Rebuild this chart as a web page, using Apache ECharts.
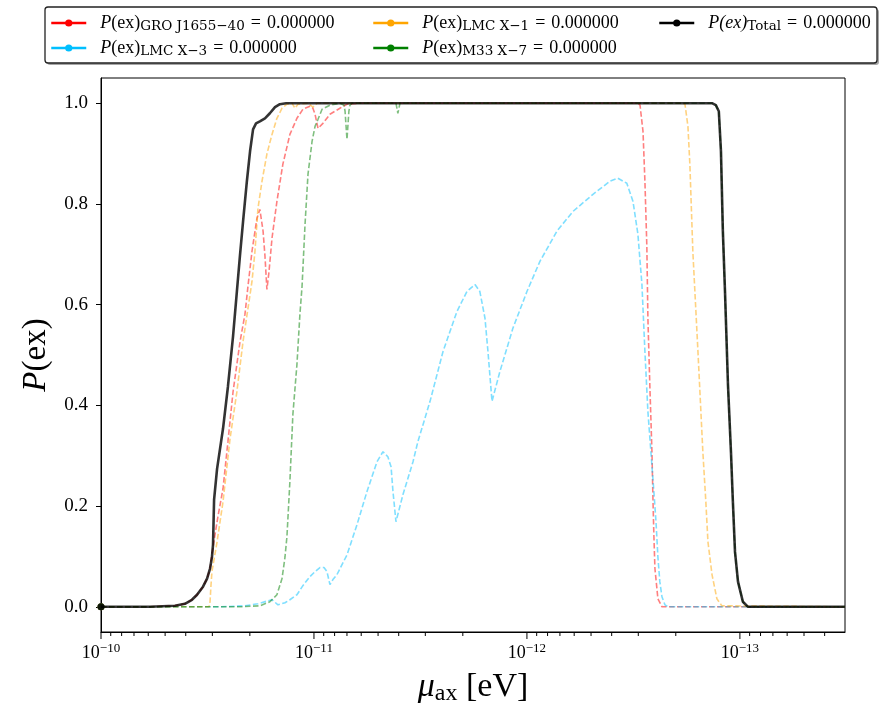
<!DOCTYPE html>
<html>
<head>
<meta charset="utf-8">
<script src="https://cdn.jsdelivr.net/npm/echarts@6/dist/echarts.min.js"></script>
<style>
  html, body { margin: 0; padding: 0; background: #fff; }
  #chart { width: 881px; height: 706px; }
</style>
</head>
<body>
<div id="chart"></div>
<script>
// Excitation probability P(ex) versus axion mass, per source.
// Masses are stored as log10(mu / eV).

const groLogMu = [-10, -10.23, -10.347, -10.394, -10.427, -10.451, -10.479, -10.498, -10.512, -10.526, -10.549, -10.573, -10.596, -10.62, -10.653, -10.676, -10.69, -10.709, -10.732, -10.746, -10.761, -10.77, -10.779, -10.789, -10.803, -10.826, -10.854, -10.887, -10.92, -10.948, -10.981, -10.995, -11.005, -11.019, -11.042, -11.075, -11.122, -11.155, -11.216, -12.521, -12.531, -12.545, -12.554, -12.563, -12.568, -12.577, -12.587, -12.592, -12.596, -12.601, -12.615, -12.634, -13.493];
const groP = [0, 0, 0.002, 0.006, 0.014, 0.024, 0.040, 0.056, 0.076, 0.119, 0.179, 0.235, 0.328, 0.427, 0.527, 0.581, 0.636, 0.706, 0.771, 0.789, 0.746, 0.696, 0.630, 0.666, 0.732, 0.805, 0.879, 0.938, 0.970, 0.988, 0.994, 0.990, 0.978, 0.950, 0.960, 0.978, 0.990, 0.998, 1.0, 1.0, 0.996, 0.944, 0.845, 0.716, 0.573, 0.441, 0.308, 0.209, 0.143, 0.076, 0.016, 0, 0];

const lmcX3LogMu = [-10, -10.559, -10.676, -10.737, -10.784, -10.803, -10.831, -10.864, -10.887, -10.92, -10.948, -10.981, -11.005, -11.028, -11.047, -11.061, -11.075, -11.089, -11.108, -11.155, -11.202, -11.249, -11.296, -11.324, -11.347, -11.362, -11.371, -11.385, -11.418, -11.465, -11.488, -11.545, -11.606, -11.671, -11.718, -11.756, -11.779, -11.803, -11.817, -11.836, -11.873, -11.934, -12.0, -12.061, -12.141, -12.216, -12.31, -12.39, -12.427, -12.469, -12.498, -12.521, -12.54, -12.554, -12.568, -12.582, -12.596, -12.606, -12.615, -12.624, -12.634, -12.648, -12.662, -13.493];
const lmcX3P = [0, 0, 0.002, 0.006, 0.012, 0.014, 0.004, 0.008, 0.014, 0.024, 0.042, 0.060, 0.070, 0.078, 0.078, 0.070, 0.044, 0.054, 0.064, 0.103, 0.163, 0.229, 0.288, 0.308, 0.298, 0.278, 0.229, 0.169, 0.223, 0.288, 0.328, 0.408, 0.507, 0.586, 0.626, 0.640, 0.626, 0.573, 0.507, 0.408, 0.467, 0.553, 0.626, 0.686, 0.746, 0.785, 0.819, 0.845, 0.851, 0.841, 0.805, 0.740, 0.640, 0.507, 0.388, 0.308, 0.229, 0.169, 0.099, 0.050, 0.020, 0.004, 0, 0];

const lmcX1LogMu = [-10, -10.507, -10.512, -10.516, -10.521, -10.545, -10.573, -10.606, -10.638, -10.667, -10.709, -10.723, -10.737, -10.756, -10.779, -10.803, -10.826, -10.85, -10.873, -10.897, -10.911, -10.925, -10.972, -10.995, -11.014, -12.732, -12.742, -12.756, -12.765, -12.779, -12.803, -12.826, -12.84, -12.85, -12.869, -12.892, -12.915, -13.493];
const lmcX1P = [0, 0, 0.010, 0.040, 0.070, 0.129, 0.209, 0.334, 0.427, 0.527, 0.646, 0.706, 0.791, 0.845, 0.899, 0.938, 0.970, 0.990, 0.998, 1.0, 0.990, 0.998, 1.0, 0.992, 1.0, 1.0, 0.998, 0.954, 0.879, 0.706, 0.507, 0.308, 0.209, 0.129, 0.064, 0.016, 0.002, 0];

const m33X7LogMu = [-10, -10.653, -10.746, -10.793, -10.826, -10.85, -10.864, -10.873, -10.887, -10.901, -10.92, -10.934, -10.944, -10.958, -10.972, -10.991, -11.005, -11.019, -11.038, -11.075, -11.122, -11.141, -11.146, -11.155, -11.164, -11.169, -11.178, -11.385, -11.394, -11.404, -12.869, -12.887, -12.901, -12.911, -12.92, -12.93, -12.944, -12.958, -12.967, -12.977, -12.991, -13.014, -13.038, -13.493];
const m33X7P = [0, 0, 0.002, 0.010, 0.024, 0.056, 0.099, 0.139, 0.249, 0.382, 0.481, 0.581, 0.636, 0.759, 0.859, 0.924, 0.954, 0.968, 0.988, 0.996, 1.0, 0.996, 0.984, 0.928, 0.984, 0.996, 1.0, 1.0, 0.980, 1.0, 1.0, 0.996, 0.984, 0.905, 0.746, 0.626, 0.441, 0.308, 0.209, 0.109, 0.05, 0.01, 0, 0];

const totalLogMu = [-10, -10.23, -10.347, -10.394, -10.427, -10.451, -10.479, -10.498, -10.512, -10.521, -10.526, -10.531, -10.545, -10.573, -10.596, -10.62, -10.638, -10.653, -10.667, -10.685, -10.7, -10.714, -10.728, -10.746, -10.77, -10.793, -10.817, -10.84, -10.869, -12.869, -12.887, -12.901, -12.911, -12.92, -12.93, -12.944, -12.958, -12.967, -12.977, -12.991, -13.014, -13.038, -13.493];
const totalP = [0, 0, 0.002, 0.006, 0.014, 0.024, 0.040, 0.056, 0.076, 0.099, 0.123, 0.213, 0.274, 0.354, 0.437, 0.537, 0.626, 0.700, 0.765, 0.845, 0.905, 0.948, 0.960, 0.964, 0.970, 0.980, 0.992, 0.998, 1.0, 1.0, 0.996, 0.984, 0.905, 0.746, 0.626, 0.441, 0.308, 0.209, 0.109, 0.05, 0.01, 0, 0];

// Legend values shown after each label
const legendValues = ['0.000000', '0.000000', '0.000000', '0.000000', '0.000000'];

// Axis ranges and y tick values
const massRange = [3.21e-14, 1e-10];
const probRange = [-0.05, 1.05];
const yTickValues = [0, 0.2, 0.4, 0.6, 0.8, 1.0];

const FONT = 'Liberation Serif';
const SUB_FONT = 'DejaVu Serif';

function toPairs(logMu, p) {
  return logMu.map((e, i) => [Math.pow(10, e), p[i]]);
}

// Decade (major) and 2..9 (minor) tick positions on the log axis
const logTicks = [];
for (let d = -14; d <= -10; d++) {
  for (let m = 1; m <= 9; m++) {
    const v = m * Math.pow(10, d);
    if (v >= massRange[0] * 0.9999 && v <= massRange[1] * 1.0001) logTicks.push([v, m === 1 ? 1 : 0]);
  }
}

const sources = [
  { name: 'GRO J1655\u221240', color: '#ff0000', logMu: groLogMu, p: groP, value: legendValues[0] },
  { name: 'LMC X\u22123', color: '#00bfff', logMu: lmcX3LogMu, p: lmcX3P, value: legendValues[1] },
  { name: 'LMC X\u22121', color: '#ffa500', logMu: lmcX1LogMu, p: lmcX1P, value: legendValues[2] },
  { name: 'M33 X\u22127', color: '#008000', logMu: m33X7LogMu, p: m33X7P, value: legendValues[3] }
];

const firstPointOnly = (v, params) => (params.dataIndex === 0 ? 7 : 0);

const series = sources.map(s => ({
  name: s.name,
  type: 'line',
  data: toPairs(s.logMu, s.p),
  color: s.color,
  symbol: 'circle',
  symbolSize: firstPointOnly,
  showSymbol: true,
  showAllSymbol: true,
  itemStyle: { color: s.color, opacity: 0.5 },
  lineStyle: { color: s.color, width: 1.6, type: [5.5, 2.5], opacity: 0.5 },
  silent: true,
  z: 2
}));

series.push({
  name: 'Total',
  type: 'line',
  data: toPairs(totalLogMu, totalP),
  color: '#000',
  symbol: 'circle',
  symbolSize: firstPointOnly,
  showSymbol: true,
  showAllSymbol: true,
  itemStyle: { color: '#000', opacity: 0.85 },
  lineStyle: { color: '#000', width: 2.6, opacity: 0.8, type: 'solid' },
  silent: true,
  z: 3
});

// Log-axis tick marks (decades long, 2..9 short), drawn outward below the plot
series.push({
  type: 'custom',
  data: logTicks,
  clip: false,
  silent: true,
  encode: { x: 0 },
  renderItem: function (params, api) {
    const pt = api.coord([api.value(0), probRange[0]]);
    const len = api.value(1) ? 7 : 4;
    return {
      type: 'line',
      shape: { x1: pt[0], y1: pt[1], x2: pt[0], y2: pt[1] + len },
      style: { stroke: '#000', lineWidth: 1 }
    };
  },
  z: 5
});

const EQ = '\u2004=\u2004';
const legendLabels = {};
sources.forEach(s => {
  legendLabels[s.name] = '{it|P}{rm|(ex)}{sub|' + s.name + '}{rm|' + EQ + s.value + '}';
});
legendLabels['Total'] = '{it|P(ex)}{sub|Total}{rm|' + EQ + legendValues[4] + '}';

const legendCommon = {
  orient: 'vertical',
  top: 14,
  itemGap: 6,
  itemWidth: 35,
  itemHeight: 9,
  padding: 0,
  selectedMode: false,
  lineStyle: { type: 'solid', width: 2.5, opacity: 1 },
  itemStyle: { opacity: 1 },
  formatter: name => legendLabels[name],
  textStyle: {
    padding: [0, 0, 0, 9],
    rich: {
      it: { fontFamily: FONT, fontSize: 18, fontStyle: 'italic', lineHeight: 20, color: '#000' },
      rm: { fontFamily: FONT, fontSize: 18, lineHeight: 20, color: '#000' },
      sub: { fontFamily: SUB_FONT, fontSize: 13.5, lineHeight: 13, verticalAlign: 'bottom', color: '#000' }
    }
  }
};

const option = {
  animation: false,
  backgroundColor: '#fff',
  grid: {
    left: 101, right: 36, top: 78, bottom: 74,
    outerBoundsMode: 'none',
    containLabel: false,
    show: true, borderColor: '#000', borderWidth: 1, backgroundColor: 'transparent'
  },
  graphic: [
    { type: 'rect', z: 0, shape: { x: 47, y: 9, width: 832, height: 56, r: 3 }, style: { fill: 'rgba(0,0,0,0.35)' } },
    { type: 'rect', z: 0, shape: { x: 45, y: 7, width: 832, height: 56, r: 3 }, style: { fill: '#fff', stroke: '#222', lineWidth: 1.3 } }
  ],
  legend: [
    Object.assign({}, legendCommon, { left: 50, data: [sources[0].name, sources[1].name] }),
    Object.assign({}, legendCommon, { left: 372, data: [sources[2].name, sources[3].name] }),
    Object.assign({}, legendCommon, { left: 658, data: ['Total'] })
  ],
  xAxis: {
    type: 'log',
    logBase: 10,
    inverse: true,
    min: massRange[0],
    max: massRange[1],
    axisLine: { show: true, onZero: false, lineStyle: { color: '#000', width: 1 } },
    axisTick: { show: false },
    splitLine: { show: false },
    axisLabel: {
      margin: 10,
      showMinLabel: false,
      formatter: v => '{b|10}{s|\u2212' + (-Math.round(Math.log10(v))) + '}',
      rich: {
        b: { fontFamily: FONT, fontSize: 18, lineHeight: 22, color: '#000' },
        s: { fontFamily: FONT, fontSize: 13, lineHeight: 9, verticalAlign: 'top', color: '#000' }
      }
    },
    name: '{mu|\u03bc}{sub|ax}{rm| [eV]}',
    nameLocation: 'middle',
    nameGap: 36,
    nameTextStyle: {
      rich: {
        mu: { fontFamily: FONT, fontSize: 34, fontStyle: 'italic', lineHeight: 38, color: '#000' },
        sub: { fontFamily: FONT, fontSize: 24, lineHeight: 24, verticalAlign: 'bottom', color: '#000' },
        rm: { fontFamily: FONT, fontSize: 34, lineHeight: 38, color: '#000' }
      }
    }
  },
  yAxis: {
    type: 'value',
    min: probRange[0],
    max: probRange[1],
    axisLine: { show: true, onZero: false, lineStyle: { color: '#000', width: 1 } },
    axisTick: { show: true, length: 5, customValues: yTickValues, lineStyle: { color: '#000' } },
    splitLine: { show: false },
    axisLabel: {
      customValues: yTickValues,
      margin: 13,
      fontFamily: FONT,
      fontSize: 19,
      color: '#000',
      formatter: v => v.toFixed(1)
    },
    name: '{it|P}{rm|(ex)}',
    nameLocation: 'middle',
    nameGap: 46,
    nameTextStyle: {
      rich: {
        it: { fontFamily: FONT, fontSize: 33, fontStyle: 'italic', lineHeight: 38, color: '#000' },
        rm: { fontFamily: FONT, fontSize: 33, lineHeight: 38, color: '#000' }
      }
    }
  },
  series: series
};

const chart = echarts.init(document.getElementById('chart'), null, { renderer: 'canvas' });
chart.setOption(option);
</script>
</body>
</html>
